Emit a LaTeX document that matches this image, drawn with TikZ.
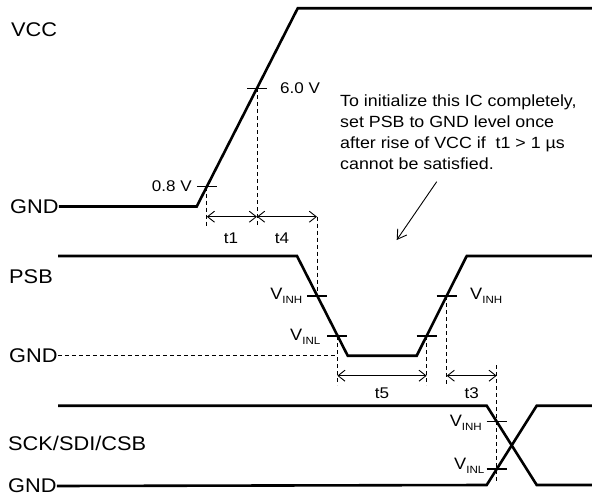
\documentclass[tikz,border=0pt]{standalone}
\usepackage{fontspec}
\setmainfont{Liberation Sans}[FakeStretch=1.1]
\usetikzlibrary{arrows.meta}
\newcommand\vlab[1]{{\fontsize{16.5}{16.5}\selectfont V}\raisebox{-3.5pt}{\fontsize{10.5}{10.5}\selectfont #1}}
\tikzset{
  wave/.style={line width=2.6pt, line join=miter},
  tick/.style={line width=1.1pt},
  guide/.style={line width=0.9pt, dash pattern=on 4pt off 3pt},
  dim/.style={line width=0.9pt, {Straight Barb[length=7pt,width=11pt]}-{Straight Barb[length=7pt,width=11pt]}},
  big/.style={inner sep=0pt, font=\fontsize{19.8}{19.8}\selectfont},
  small/.style={inner sep=0pt, font=\fontsize{15.5}{15.5}\selectfont},
  vl/.style={inner sep=0pt},
}
\begin{document}
\begin{tikzpicture}[x=1pt,y=-1pt]
\useasboundingbox (0,0) rectangle (592,500);
% ---- left labels
\node[big,anchor=west] (vcc) at (11,30) {VCC};
\node[big,anchor=west] (gnd1) at (10,206.5) {GND};
\node[big,anchor=west] (psb) at (9,277) {PSB};
\node[big,anchor=west] (gnd2) at (9,355.7) {GND};
\node[big,anchor=west] (sck) at (8,443) {SCK/SDI/CSB};
\node[big,anchor=west] (gnd3) at (8,486) {GND};
% ---- VCC waveform
\coordinate (v1) at (196.7,206.5);
\coordinate (v2) at (297.7,8.3);
\coordinate (v3) at (593,8.3);
\draw[wave] (gnd1.east) -- (v1) -- (v2) -- (v3);
\coordinate (p08) at (206.8,186.7);
\coordinate (p60) at (257,88.3);
\draw[tick] ([xshift=-10pt]p08) -- ([xshift=10pt]p08);
\draw[tick] ([xshift=-10pt]p60) -- ([xshift=10pt]p60);
\node[small,anchor=east] (l08) at (192,186) {0.8 V};
\node[small,anchor=west] (l60) at (280,88) {6.0 V};
\coordinate (d1b) at (206.8,227);
\coordinate (d2b) at (257,227);
\coordinate (a1) at (206.8,216.7);
\coordinate (a2) at (257,216.7);
\coordinate (a3) at (317,216.7);
\coordinate (psbh) at (317,296);
\draw[guide] (p08) -- (d1b);
\draw[guide] (p60) -- (d2b);
\draw[guide] (a3) -- (psbh);
\draw[dim] (a1) -- (a2);
\draw[dim] (a2) -- (a3);
\node[small] (t1) at (231,238) {t1};
\node[small] (t4) at (282,238) {t4};
% ---- note
\node[inner sep=0pt, anchor=north west, align=left, font=\fontsize{16.2}{21}\selectfont] (note) at (340,95)
 {To initialize this IC completely,\\set PSB to GND level once\\after rise of VCC if\ \ t1 > 1 µs\\cannot be satisfied.};
\coordinate (nt) at (436.7,181.7);
\coordinate (nh) at (396.7,240);
\draw[line width=0.9pt, -{Straight Barb[length=9pt,width=11pt]}] (nt) -- (nh);
% ---- PSB waveform
\coordinate (s0) at (58,256);
\coordinate (s1) at (297,256);
\coordinate (s2) at (347.7,355.7);
\coordinate (s3) at (416.7,355.7);
\coordinate (s4) at (466.7,256);
\coordinate (s5) at (593,256);
\draw[wave] (s0) -- (s1) -- (s2) -- (s3) -- (s4) -- (s5);
\coordinate (sl1) at (337.3,336);
\coordinate (sl2) at (426.7,336);
\coordinate (sh2) at (446.7,296);
\coordinate (g2e) at (337.3,355.7);
\draw[guide] (gnd2.east) -- (g2e);
\foreach \p in {psbh,sl1,sl2,sh2}
  \draw[tick] ([xshift=-10pt]\p) -- ([xshift=10pt]\p);
\node[vl,anchor=east] (vinh1) at (302.5,296) {\vlab{INH}};
\node[vl,anchor=east] (vinl1) at (320.5,337) {\vlab{INL}};
\node[vl,anchor=west] (vinh2) at (470,296) {\vlab{INH}};
\coordinate (d5a) at (337.3,385);
\coordinate (d5b) at (426.7,385);
\coordinate (d3a) at (446.7,384);
\coordinate (t5a) at (337.3,375.7);
\coordinate (t5b) at (426.7,375.7);
\coordinate (t3a) at (446.7,375.7);
\coordinate (t3b) at (496.7,375.7);
\coordinate (d3t) at (496.7,365);
\coordinate (d3e) at (496.7,482);
\draw[guide] (sl1) -- (d5a);
\draw[guide] (sl2) -- (d5b);
\draw[guide] (sh2) -- (d3a);
\draw[guide] (d3t) -- (d3e);
\draw[dim] (t5a) -- (t5b);
\draw[dim] (t3a) -- (t3b);
\node[small] (t5) at (382,393) {t5};
\node[small] (t3) at (471.7,393) {t3};
% ---- SCK/SDI/CSB waveform
\coordinate (k0) at (58,405.7);
\coordinate (k1) at (486.7,405.7);
\coordinate (k2) at (536.7,485);
\coordinate (k3) at (593,485);
\coordinate (k4) at (486.7,485);
\coordinate (k5) at (536.7,405.7);
\coordinate (k6) at (593,405.7);
\draw[wave] (k0) -- (k1) -- (k2) -- (k3);
\draw[wave] (gnd3.east) -- (k4) -- (k5) -- (k6);
\coordinate (kh) at (496.7,421.7);
\coordinate (kl) at (496.7,469);
\draw[tick] ([xshift=-10pt]kh) -- ([xshift=10pt]kh);
\draw[tick] ([xshift=-10pt]kl) -- ([xshift=10pt]kl);
\node[vl,anchor=east] (vinh3) at (482,423) {\vlab{INH}};
\node[vl,anchor=east] (vinl3) at (484.5,466) {\vlab{INL}};
\end{tikzpicture}
\end{document}
